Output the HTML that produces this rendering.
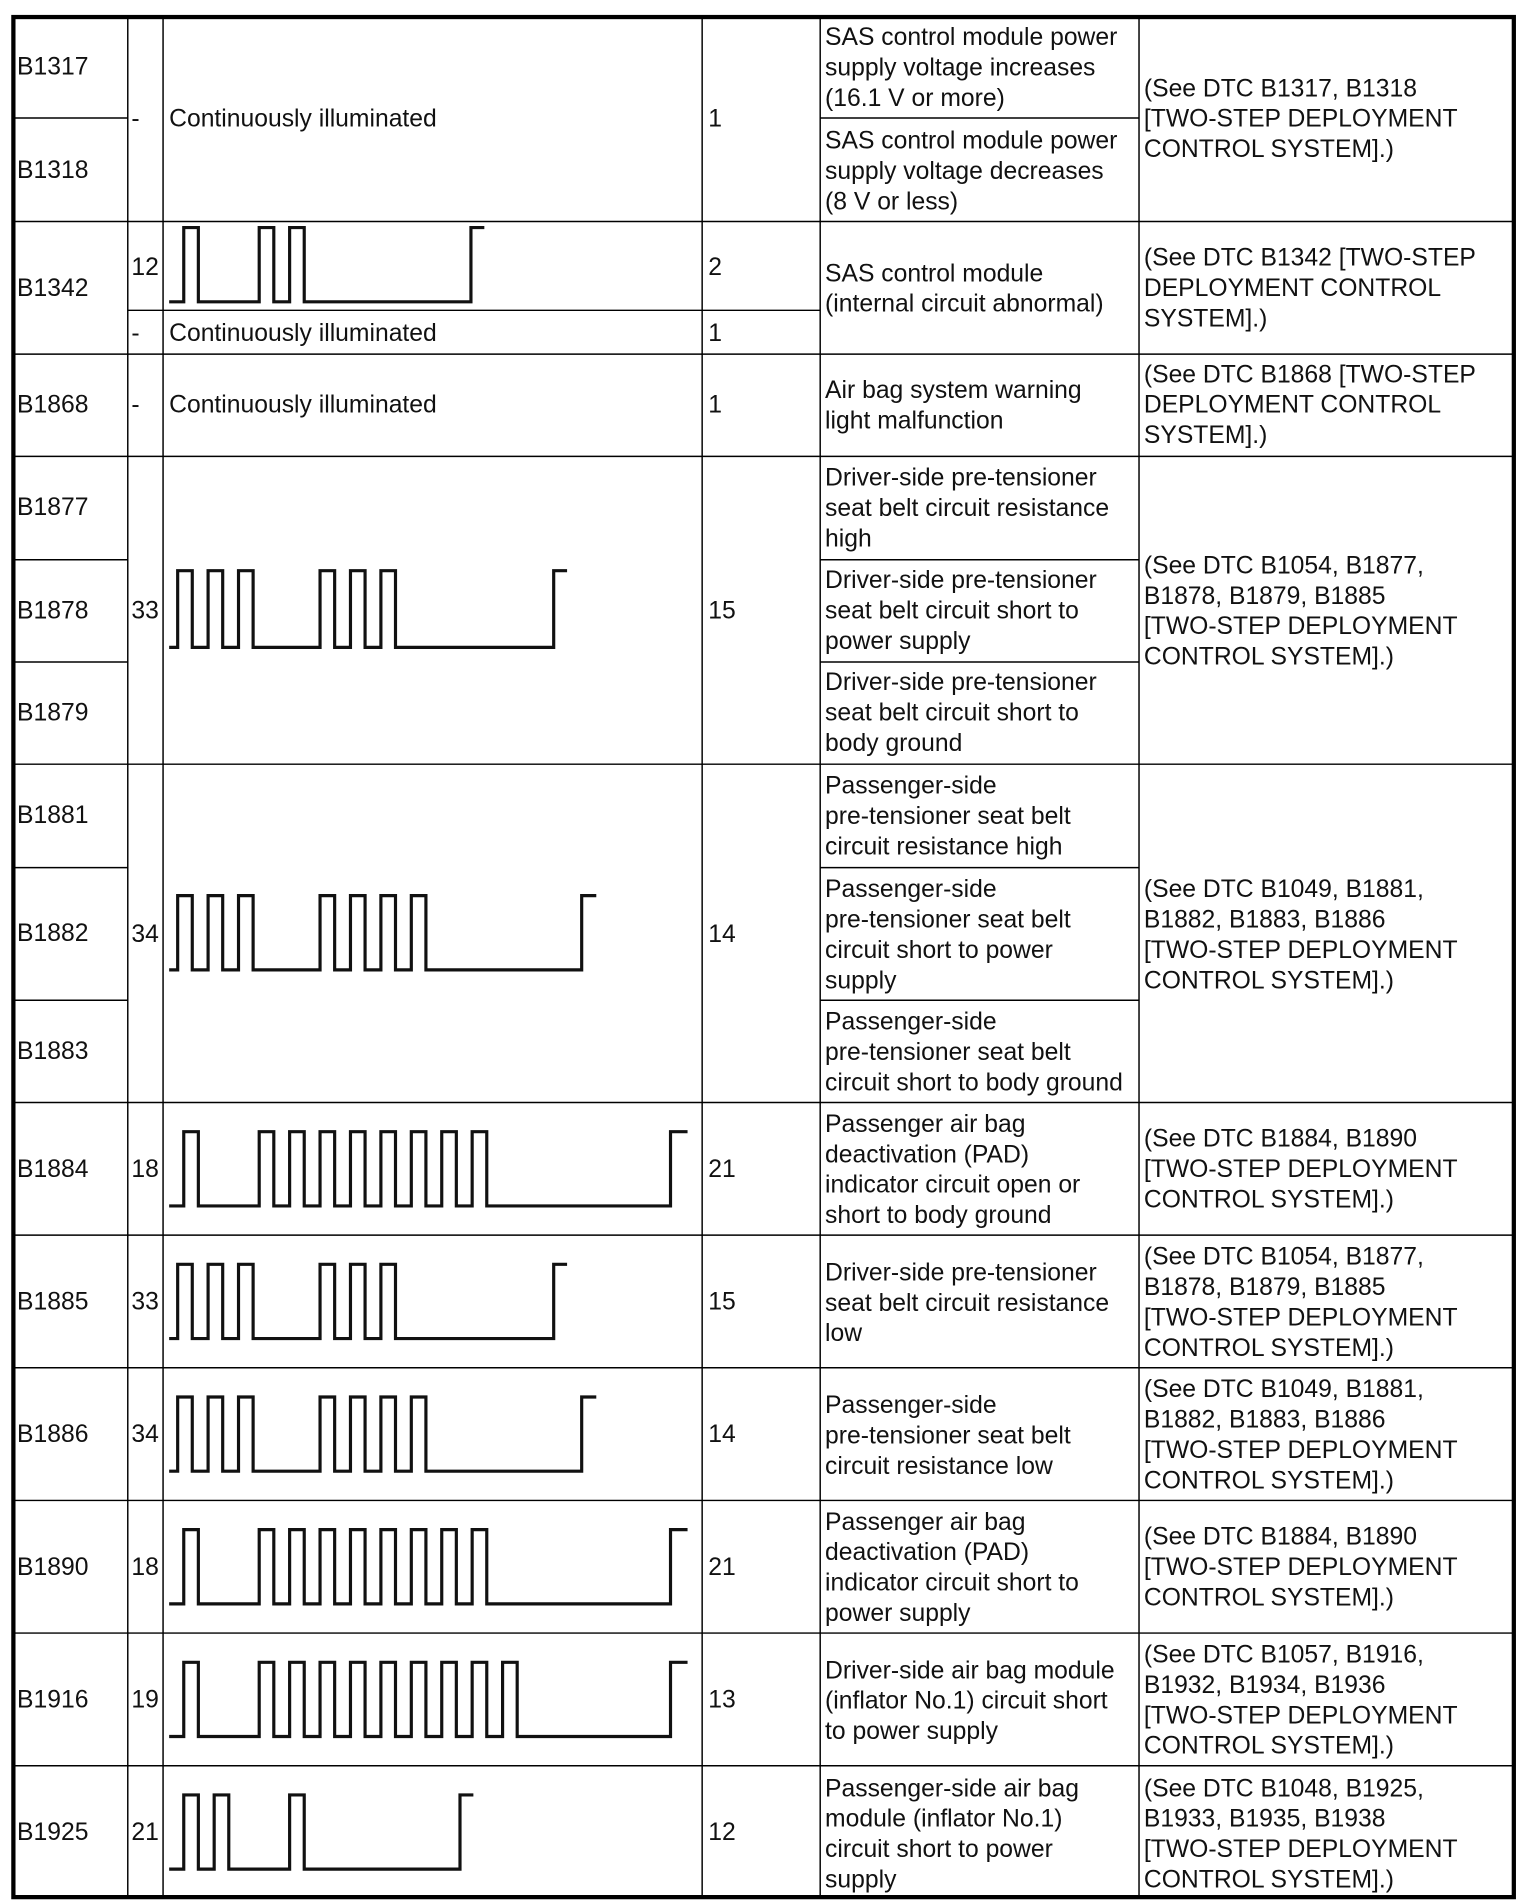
<!DOCTYPE html>
<html><head><meta charset="utf-8"><style>
html,body{margin:0;padding:0;background:#fff;width:1526px;height:1902px;overflow:hidden}
svg{display:block}
text{font-family:"Liberation Sans",Arial,sans-serif;font-size:20.3px;fill:#111;dominant-baseline:central}
.l{stroke:#000;stroke-width:1.2;fill:none}
.w{stroke:#111;stroke-width:2.6;fill:none}
</style></head><body>
<svg width="1526" height="1902" viewBox="0 0 1254 1563" preserveAspectRatio="none">
<rect x="11" y="14" width="1233" height="1545" fill="none" stroke="#000" stroke-width="3.5"/>
<g class="l">
<line x1="105" y1="14" x2="105" y2="1559"/>
<line x1="134" y1="14" x2="134" y2="1559"/>
<line x1="577" y1="14" x2="577" y2="1559"/>
<line x1="674" y1="14" x2="674" y2="1559"/>
<line x1="936" y1="14" x2="936" y2="1559"/>
<line x1="11" y1="182" x2="1244" y2="182"/>
<line x1="11" y1="291" x2="1244" y2="291"/>
<line x1="11" y1="375" x2="1244" y2="375"/>
<line x1="11" y1="628" x2="1244" y2="628"/>
<line x1="11" y1="906" x2="1244" y2="906"/>
<line x1="11" y1="1015" x2="1244" y2="1015"/>
<line x1="11" y1="1124" x2="1244" y2="1124"/>
<line x1="11" y1="1233" x2="1244" y2="1233"/>
<line x1="11" y1="1342" x2="1244" y2="1342"/>
<line x1="11" y1="1451" x2="1244" y2="1451"/>
<line x1="11" y1="97" x2="105" y2="97"/>
<line x1="674" y1="97" x2="936" y2="97"/>
<line x1="105" y1="255" x2="674" y2="255"/>
<line x1="11" y1="460" x2="105" y2="460"/><line x1="11" y1="544" x2="105" y2="544"/>
<line x1="674" y1="460" x2="936" y2="460"/><line x1="674" y1="544" x2="936" y2="544"/>
<line x1="11" y1="713" x2="105" y2="713"/><line x1="11" y1="822" x2="105" y2="822"/>
<line x1="674" y1="713" x2="936" y2="713"/><line x1="674" y1="822" x2="936" y2="822"/>
</g>
<g class="w">
<polyline points="139,248 151,248 151,187 163,187 163,248 213,248 213,187 225,187 225,248 238,248 238,187 250,187 250,248 387,248 387,187 398,187"/>
<polyline points="139,532 146,532 146,469 158,469 158,532 171,532 171,469 183,469 183,532 196,532 196,469 208,469 208,532 263,532 263,469 275,469 275,532 288,532 288,469 300,469 300,532 313,532 313,469 325,469 325,532 455,532 455,469 466,469"/>
<polyline points="139,797 146,797 146,736 158,736 158,797 171,797 171,736 183,736 183,797 196,797 196,736 208,736 208,797 263,797 263,736 275,736 275,797 288,797 288,736 300,736 300,797 313,797 313,736 325,736 325,797 338,797 338,736 350,736 350,797 478,797 478,736 490,736"/>
<polyline points="139,991 151,991 151,930 163,930 163,991 213,991 213,930 225,930 225,991 238,991 238,930 250,930 250,991 263,991 263,930 275,930 275,991 288,991 288,930 300,930 300,991 313,991 313,930 325,930 325,991 338,991 338,930 350,930 350,991 363,991 363,930 375,930 375,991 388,991 388,930 400,930 400,991 551,991 551,930 565,930"/>
<polyline points="139,1100 146,1100 146,1039 158,1039 158,1100 171,1100 171,1039 183,1039 183,1100 196,1100 196,1039 208,1039 208,1100 263,1100 263,1039 275,1039 275,1100 288,1100 288,1039 300,1039 300,1100 313,1100 313,1039 325,1039 325,1100 455,1100 455,1039 466,1039"/>
<polyline points="139,1209 146,1209 146,1148 158,1148 158,1209 171,1209 171,1148 183,1148 183,1209 196,1209 196,1148 208,1148 208,1209 263,1209 263,1148 275,1148 275,1209 288,1209 288,1148 300,1148 300,1209 313,1209 313,1148 325,1148 325,1209 338,1209 338,1148 350,1148 350,1209 478,1209 478,1148 490,1148"/>
<polyline points="139,1318 151,1318 151,1257 163,1257 163,1318 213,1318 213,1257 225,1257 225,1318 238,1318 238,1257 250,1257 250,1318 263,1318 263,1257 275,1257 275,1318 288,1318 288,1257 300,1257 300,1318 313,1318 313,1257 325,1257 325,1318 338,1318 338,1257 350,1257 350,1318 363,1318 363,1257 375,1257 375,1318 388,1318 388,1257 400,1257 400,1318 551,1318 551,1257 565,1257"/>
<polyline points="139,1427 151,1427 151,1366 163,1366 163,1427 213,1427 213,1366 225,1366 225,1427 238,1427 238,1366 250,1366 250,1427 263,1427 263,1366 275,1366 275,1427 288,1427 288,1366 300,1366 300,1427 313,1427 313,1366 325,1366 325,1427 338,1427 338,1366 350,1366 350,1427 363,1427 363,1366 375,1366 375,1427 388,1427 388,1366 400,1366 400,1427 413,1427 413,1366 425,1366 425,1427 551,1427 551,1366 565,1366"/>
<polyline points="139,1536 151,1536 151,1475 163,1475 163,1536 176,1536 176,1475 188,1475 188,1536 238,1536 238,1475 250,1475 250,1536 378,1536 378,1475 389,1475"/>
</g>
<g>
<text x="14" y="55">B1317</text><text x="14" y="140">B1318</text>
<text x="108" y="98">-</text><text x="139" y="98">Continuously illuminated</text><text x="582" y="98">1</text>
<text x="678" y="31">SAS control module power</text><text x="678" y="56">supply voltage increases</text><text x="678" y="81">(16.1 V or more)</text>
<text x="678" y="116">SAS control module power</text><text x="678" y="141">supply voltage decreases</text><text x="678" y="166">(8 V or less)</text>
<text x="940" y="73">(See DTC B1317, B1318</text><text x="940" y="98">[TWO-STEP DEPLOYMENT</text><text x="940" y="123">CONTROL SYSTEM].)</text>

<text x="14" y="237">B1342</text><text x="108" y="220">12</text><text x="582" y="220">2</text>
<text x="108" y="274">-</text><text x="139" y="274">Continuously illuminated</text><text x="582" y="274">1</text>
<text x="678" y="225">SAS control module</text><text x="678" y="250">(internal circuit abnormal)</text>
<text x="940" y="212">(See DTC B1342 [TWO-STEP</text><text x="940" y="237">DEPLOYMENT CONTROL</text><text x="940" y="262">SYSTEM].)</text>

<text x="14" y="333">B1868</text><text x="108" y="333">-</text><text x="139" y="333">Continuously illuminated</text><text x="582" y="333">1</text>
<text x="678" y="321">Air bag system warning</text><text x="678" y="346">light malfunction</text>
<text x="940" y="308">(See DTC B1868 [TWO-STEP</text><text x="940" y="333">DEPLOYMENT CONTROL</text><text x="940" y="358">SYSTEM].)</text>

<text x="14" y="417">B1877</text><text x="14" y="502">B1878</text><text x="14" y="586">B1879</text>
<text x="108" y="502">33</text><text x="582" y="502">15</text>
<text x="678" y="393">Driver-side pre-tensioner</text><text x="678" y="418">seat belt circuit resistance</text><text x="678" y="443">high</text>
<text x="678" y="477">Driver-side pre-tensioner</text><text x="678" y="502">seat belt circuit short to</text><text x="678" y="527">power supply</text>
<text x="678" y="561">Driver-side pre-tensioner</text><text x="678" y="586">seat belt circuit short to</text><text x="678" y="611">body ground</text>
<text x="940" y="465">(See DTC B1054, B1877,</text><text x="940" y="490">B1878, B1879, B1885</text><text x="940" y="515">[TWO-STEP DEPLOYMENT</text><text x="940" y="540">CONTROL SYSTEM].)</text>

<text x="14" y="670">B1881</text><text x="14" y="767">B1882</text><text x="14" y="864">B1883</text>
<text x="108" y="768">34</text><text x="582" y="768">14</text>
<text x="678" y="646">Passenger-side</text><text x="678" y="671">pre-tensioner seat belt</text><text x="678" y="696">circuit resistance high</text>
<text x="678" y="731">Passenger-side</text><text x="678" y="756">pre-tensioner seat belt</text><text x="678" y="781">circuit short to power</text><text x="678" y="806">supply</text>
<text x="678" y="840">Passenger-side</text><text x="678" y="865">pre-tensioner seat belt</text><text x="678" y="890">circuit short to body ground</text>
<text x="940" y="731">(See DTC B1049, B1881,</text><text x="940" y="756">B1882, B1883, B1886</text><text x="940" y="781">[TWO-STEP DEPLOYMENT</text><text x="940" y="806">CONTROL SYSTEM].)</text>

<text x="14" y="961">B1884</text><text x="108" y="961">18</text><text x="582" y="961">21</text>
<text x="678" y="924">Passenger air bag</text><text x="678" y="949">deactivation (PAD)</text><text x="678" y="974">indicator circuit open or</text><text x="678" y="999">short to body ground</text>
<text x="940" y="936">(See DTC B1884, B1890</text><text x="940" y="961">[TWO-STEP DEPLOYMENT</text><text x="940" y="986">CONTROL SYSTEM].)</text>

<text x="14" y="1070">B1885</text><text x="108" y="1070">33</text><text x="582" y="1070">15</text>
<text x="678" y="1046">Driver-side pre-tensioner</text><text x="678" y="1071">seat belt circuit resistance</text><text x="678" y="1096">low</text>
<text x="940" y="1033">(See DTC B1054, B1877,</text><text x="940" y="1058">B1878, B1879, B1885</text><text x="940" y="1083">[TWO-STEP DEPLOYMENT</text><text x="940" y="1108">CONTROL SYSTEM].)</text>

<text x="14" y="1179">B1886</text><text x="108" y="1179">34</text><text x="582" y="1179">14</text>
<text x="678" y="1155">Passenger-side</text><text x="678" y="1180">pre-tensioner seat belt</text><text x="678" y="1205">circuit resistance low</text>
<text x="940" y="1142">(See DTC B1049, B1881,</text><text x="940" y="1167">B1882, B1883, B1886</text><text x="940" y="1192">[TWO-STEP DEPLOYMENT</text><text x="940" y="1217">CONTROL SYSTEM].)</text>

<text x="14" y="1288">B1890</text><text x="108" y="1288">18</text><text x="582" y="1288">21</text>
<text x="678" y="1251">Passenger air bag</text><text x="678" y="1276">deactivation (PAD)</text><text x="678" y="1301">indicator circuit short to</text><text x="678" y="1326">power supply</text>
<text x="940" y="1263">(See DTC B1884, B1890</text><text x="940" y="1288">[TWO-STEP DEPLOYMENT</text><text x="940" y="1313">CONTROL SYSTEM].)</text>

<text x="14" y="1397">B1916</text><text x="108" y="1397">19</text><text x="582" y="1397">13</text>
<text x="678" y="1373">Driver-side air bag module</text><text x="678" y="1398">(inflator No.1) circuit short</text><text x="678" y="1423">to power supply</text>
<text x="940" y="1360">(See DTC B1057, B1916,</text><text x="940" y="1385">B1932, B1934, B1936</text><text x="940" y="1410">[TWO-STEP DEPLOYMENT</text><text x="940" y="1435">CONTROL SYSTEM].)</text>

<text x="14" y="1506">B1925</text><text x="108" y="1506">21</text><text x="582" y="1506">12</text>
<text x="678" y="1470">Passenger-side air bag</text><text x="678" y="1495">module (inflator No.1)</text><text x="678" y="1520">circuit short to power</text><text x="678" y="1545">supply</text>
<text x="940" y="1470">(See DTC B1048, B1925,</text><text x="940" y="1495">B1933, B1935, B1938</text><text x="940" y="1520">[TWO-STEP DEPLOYMENT</text><text x="940" y="1545">CONTROL SYSTEM].)</text>
</g>
</svg>
</body></html>
